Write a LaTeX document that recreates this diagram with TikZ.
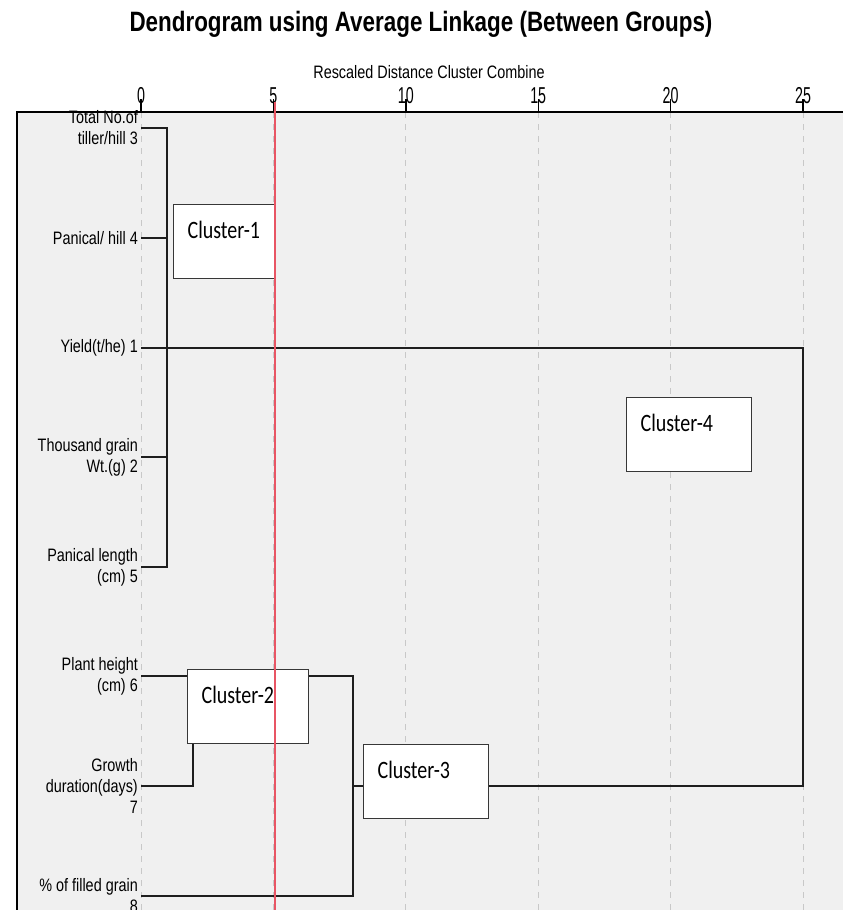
\documentclass[tikz,border=0pt]{standalone}
\usepackage{fontspec}
\setmainfont{Liberation Sans}
\newfontfamily\labfont[FakeStretch=0.8]{Liberation Sans}
\newfontfamily\tickfont[FakeStretch=0.62]{Liberation Sans}
\newfontfamily\boxfont[FakeStretch=0.8]{Carlito}
\definecolor{panel}{RGB}{240,240,240}
\definecolor{gridc}{RGB}{200,200,200}
\definecolor{redline}{RGB}{232,85,100}
\definecolor{treeline}{RGB}{30,30,30}
\definecolor{boxline}{RGB}{55,55,55}
\begin{document}
\begin{tikzpicture}[x=1pt,y=-1pt,
  leaf/.style={anchor=east,align=right,inner sep=0pt,font=\labfont\fontsize{18}{21}\selectfont},
  tree/.style={draw=treeline,line width=2.8pt},
  gridline/.style={draw=gridc,line width=1pt,dash pattern=on 6pt off 6pt},
  cbox/.style={draw=boxline,fill=white,line width=1.3pt,anchor=north west,align=left,
    inner xsep=14pt,inner ysep=9pt,text height=25pt,text depth=31pt,text width=#1,
    font=\boxfont\fontsize{25}{25}\selectfont}]
\pgfmathsetmacro{\dx}{26.48}
\useasboundingbox (0,0) rectangle (843,910);
\fill[white] (0,0) rectangle (843,910);
\fill[panel] (17,112) rectangle (843,910);
\node[font=\labfont\bfseries\fontsize{28}{28}\selectfont,anchor=base] (title) at (421,31) {Dendrogram using Average Linkage (Between Groups)};
\node[font=\labfont\fontsize{18}{18}\selectfont,anchor=base] (axlab) at (429,78) {Rescaled Distance Cluster Combine};
\foreach \k in {0,5,...,25}{
  \pgfmathsetmacro{\xx}{141+\k*\dx}
  \draw[gridline] (\xx,112) -- (\xx,910);
  \draw[line width=1.4pt] (\xx,99) -- (\xx,112);
  \node[font=\tickfont\fontsize{23}{23}\selectfont,anchor=base] (tk\k) at (\xx,103) {\k};
}
\draw[line width=1.6pt] (17,910) -- (17,112) -- (843,112);
\coordinate (t3) at (141,128);
\coordinate (t4) at (141,238);
\coordinate (t1) at (141,348);
\coordinate (t2) at (141,457);
\coordinate (t5) at (141,567);
\coordinate (t6) at (141,676);
\coordinate (t7) at (141,786);
\coordinate (t8) at (141,896);
\coordinate (m1) at (167,128);
\coordinate (m2) at (193,786);
\coordinate (m3) at (353,676);
\coordinate (m4) at (803,348);
\draw[tree] (t3) -- (m1) -- (m1 |- t5) -- (t5);
\draw[tree] (t4) -- (m1 |- t4);
\draw[tree] (t2) -- (m1 |- t2);
\draw[tree] (t7) -- (m2) -- (m2 |- t6);
\draw[tree] (t6) -- (m3) -- (m3 |- t8) -- (t8);
\draw[tree] (t1) -- (m4) -- (m4 |- t7) -- (m3 |- t7);
\node[leaf] (l3) at (138,128) {Total No.of\\tiller/hill 3};
\node[leaf] (l4) at (138,238) {Panical/ hill 4};
\node[leaf] (l1) at (138,348) {Yield(t/he) 1};
\node[leaf] (l2) at (138,457) {Thousand grain\\Wt.(g) 2};
\node[leaf] (l5) at (138,567) {Panical length\\(cm) 5};
\node[leaf] (l6) at (138,676) {Plant height\\(cm) 6};
\node[leaf] (l7) at (138,786) {Growth\\duration(days)\\7};
\node[leaf] (l8) at (138,896) {\% of filled grain\\8};
\node[cbox=74pt] (c1) at (173,204) {Cluster-1};
\node[cbox=93pt] (c2) at (187,669) {Cluster-2};
\node[cbox=97pt] (c3) at (363,744) {Cluster-3};
\node[cbox=97pt] (c4) at (626,397) {Cluster-4};
\draw[redline,line width=1.3pt] (275,102) -- (275,910);
\end{tikzpicture}
\end{document}
